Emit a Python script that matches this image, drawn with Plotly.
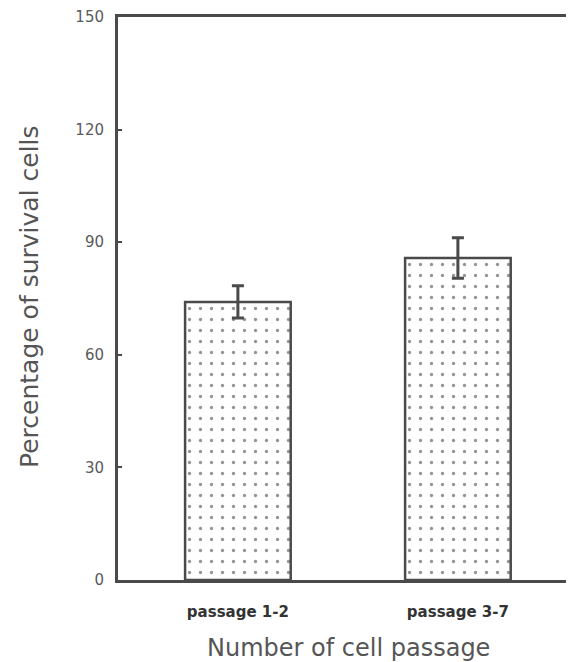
import plotly.graph_objects as go

categories = ["passage 1-2", "passage 3-7"]
values = [74.1, 85.8]
errors = [4.3, 5.4]
y_ticks = [0, 30, 60, 90, 120, 150]

line_col = "#4a4a4a"
text_col = "#555555"

# page has an 8px body margin; the figure runs past the window's right/bottom edge
W, H = 574, 662
L, T = 110, 9
B = H - 572          # plot bottom at page y=580
R = 0
PW, PH = W - L - R, H - T - B

x0 = -0.545
x1 = x0 + PW / 220.0

fig = go.Figure()
fig.add_trace(go.Bar(
    x=categories,
    y=values,
    width=0.48,
    marker=dict(
        color="white",
        line=dict(color=line_col, width=2.5),
        pattern=dict(shape=".", size=11, solidity=0.07,
                     fgcolor="#2a2a2a", bgcolor="white", fillmode="overlay"),
    ),
    error_y=dict(type="data", array=errors, visible=True,
                 color=line_col, thickness=3, width=6),
    showlegend=False,
))

fig.update_layout(
    width=W, height=H,
    margin=dict(l=L, r=R, t=T, b=B),
    paper_bgcolor="white", plot_bgcolor="white",
    font=dict(family="DejaVu Sans", color=text_col),
    xaxis=dict(
        type="category",
        range=[x0, x1],
        showline=True, linecolor=line_col, linewidth=2.5, mirror=True,
        showgrid=False, zeroline=False, ticks="",
        ticklabelstandoff=16,
        tickfont=dict(family="DejaVu Sans", size=15, color="#333333", weight="bold"),
    ),
    yaxis=dict(
        range=[0, 150],
        tickvals=y_ticks,
        showline=True, linecolor=line_col, linewidth=3, mirror=False,
        showgrid=False, zeroline=False,
        ticks="inside", ticklen=4, tickwidth=2, tickcolor=line_col,
        ticklabelstandoff=8,
        tickfont=dict(family="DejaVu Sans", size=15, color="#5a5a5a"),
    ),
    annotations=[
        dict(text="Number of cell passage", xref="paper", yref="paper",
             x=(340 - L) / PW, y=-(640 - (T + PH)) / PH,
             xanchor="center", yanchor="middle", showarrow=False,
             font=dict(family="DejaVu Sans", size=24, color=text_col)),
        dict(text="Percentage of survival cells", xref="paper", yref="paper",
             x=-(L - 21) / PW, y=((T + PH) - 289) / PH, textangle=-90,
             xanchor="center", yanchor="middle", showarrow=False,
             font=dict(family="DejaVu Sans", size=25, color=text_col)),
    ],
)

fig.write_html("out.html")
